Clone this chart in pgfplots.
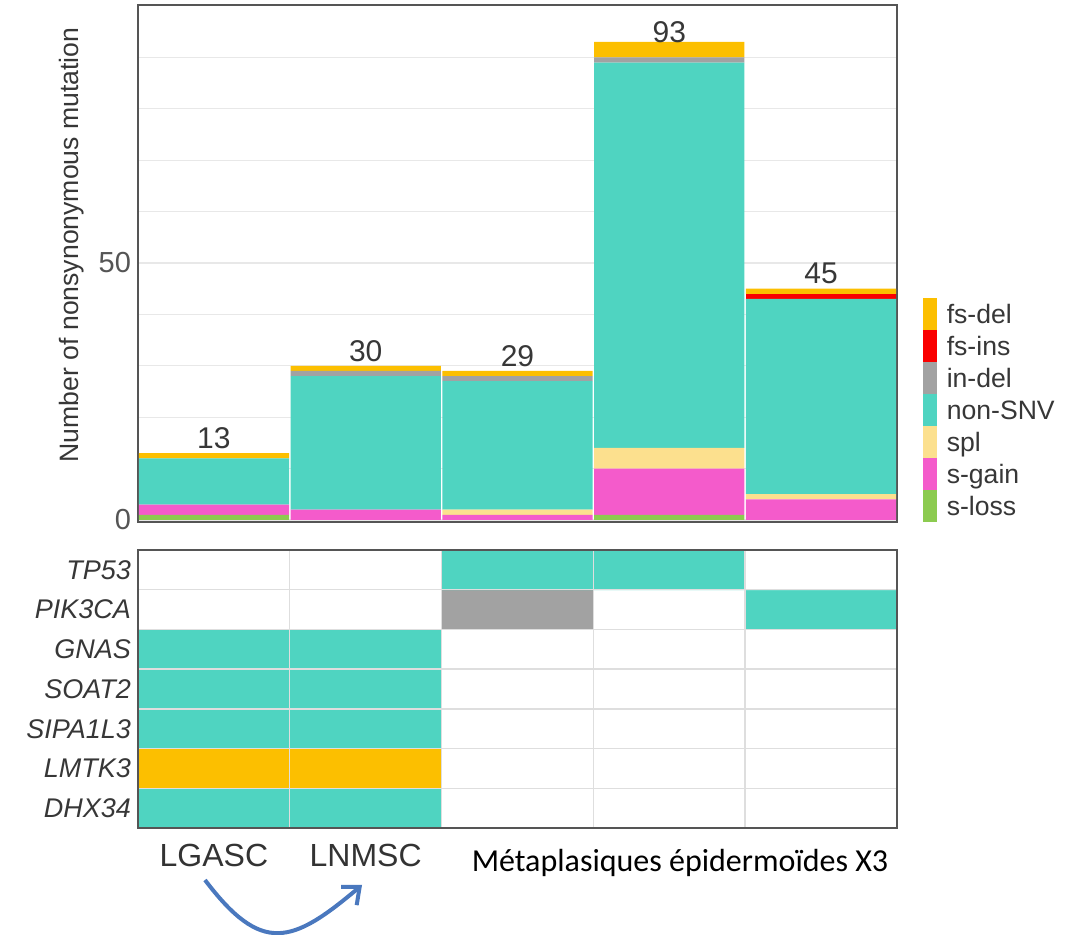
\documentclass[border=0pt]{standalone}
\usepackage{fontspec}
\setmainfont{Liberation Sans}
\newfontfamily\carlito{Carlito}
\usepackage{pgfplots}
\usepackage{pgfplotstable}
\pgfplotsset{compat=1.18}
\usetikzlibrary{arrows.meta}
\definecolor{cTeal}{RGB}{79,212,193}
\definecolor{cOrange}{RGB}{252,191,0}
\definecolor{cRed}{RGB}{250,0,0}
\definecolor{cGray}{RGB}{162,162,162}
\definecolor{cSpl}{RGB}{252,224,142}
\definecolor{cPink}{RGB}{244,91,203}
\definecolor{cGreen}{RGB}{140,203,80}
\definecolor{cText}{RGB}{55,55,55}
\definecolor{cGrid}{RGB}{232,232,232}
\definecolor{cCell}{RGB}{222,222,222}
\definecolor{cFrame}{RGB}{85,85,85}
\definecolor{cArrow}{RGB}{74,120,190}
\pgfplotsset{swatch/.style={legend image code/.code={\fill[##1,draw=none] (0pt,-8pt) rectangle (7pt,8pt);}}}

\pgfplotstableread{
x sloss sgain spl nonsnv indel fsins fsdel label
0 1 2 0 9 0 0 1 13
1 0 2 0 26 1 0 1 30
2 0 1 1 25 1 0 1 29
3 1 9 4 75 1 0 3 93
4 0 4 1 38 0 1 1 45
}\mutations

\pgfplotstableread{
x y c
0 0 1.5
1 0 1.5
2 0 0.5
3 0 0.5
4 0 0.5
0 1 3.5
1 1 3.5
2 1 0.5
3 1 0.5
4 1 0.5
0 2 1.5
1 2 1.5
2 2 0.5
3 2 0.5
4 2 0.5
0 3 1.5
1 3 1.5
2 3 0.5
3 3 0.5
4 3 0.5
0 4 1.5
1 4 1.5
2 4 0.5
3 4 0.5
4 4 0.5
0 5 0.5
1 5 0.5
2 5 2.5
3 5 0.5
4 5 1.5
0 6 0.5
1 6 0.5
2 6 1.5
3 6 1.5
4 6 0.5
}\genes

\begin{document}
\begin{tikzpicture}
\begin{axis}[
  at={(69pt,206.5pt)}, anchor=south west,
  scale only axis, width=379.5pt, height=258.5pt,
  ybar stacked, bar width=0.99,
  xmin=-0.5, xmax=4.5, ymin=-0.4, ymax=100.2,
  xtick=\empty, ytick={0,50}, minor ytick={10,20,30,40,60,70,80,90},
  ymajorgrids, yminorgrids,
  grid style={cGrid, line width=0.6pt},
  minor grid style={cGrid, line width=0.6pt},
  major tick length=0pt, minor tick length=0pt,
  axis line style={cFrame, line width=0.8pt},
  tick label style={font=\fontsize{14.5}{16}\selectfont, text=cText!85},
  /pgf/number format/assume math mode=true,
  ylabel={Number of nonsynonymous mutation},
  ylabel style={at={(axis description cs:-0.087,0.536)}, anchor=center, font=\fontsize{13.3}{16}\selectfont, text=cText},
  legend style={draw=none, fill=none, inner sep=0pt, outer sep=0pt,
    at={(1.034,0.433)}, anchor=north west, row sep=0pt, column sep=5pt,
    font=\fontsize{13.3}{16}\selectfont, text=cText,
    nodes={inner sep=0pt, outer sep=0pt, text height=12.75pt, text depth=3.25pt}},
  legend cell align=left,
  reverse legend,
  clip=false,
]
\addplot[fill=cGreen, draw=none, swatch] table[x=x, y=sloss] {\mutations};
\addlegendentry{s-loss}
\addplot[fill=cPink, draw=none, swatch] table[x=x, y=sgain] {\mutations};
\addlegendentry{s-gain}
\addplot[fill=cSpl, draw=none, swatch] table[x=x, y=spl] {\mutations};
\addlegendentry{spl}
\addplot[fill=cTeal, draw=none, swatch] table[x=x, y=nonsnv] {\mutations};
\addlegendentry{non-SNV}
\addplot[fill=cGray, draw=none, swatch] table[x=x, y=indel] {\mutations};
\addlegendentry{in-del}
\addplot[fill=cRed, draw=none, swatch] table[x=x, y=fsins] {\mutations};
\addlegendentry{fs-ins}
\addplot[fill=cOrange, draw=none, swatch,
  nodes near coords, point meta=explicit symbolic,
  every node near coord/.append style={font=\fontsize{15}{16}\selectfont, text=cText, anchor=south, inner ysep=3.3pt}]
  table[x=x, y=fsdel, meta=label] {\mutations};
\addlegendentry{fs-del}
\end{axis}

\begin{axis}[
  at={(69pt,53.5pt)}, anchor=south west,
  scale only axis, width=379.5pt, height=139pt,
  xmin=-0.5, xmax=4.5, ymin=-0.5, ymax=6.5, enlargelimits=false,
  xtick={0,1}, xticklabels={LGASC,LNMSC},
  ytick={0,1,2,3,4,5,6},
  yticklabels={DHX34,LMTK3,SIPA1L3,SOAT2,GNAS,PIK3CA,TP53},
  minor xtick={0.5,1.5,2.5,3.5}, minor ytick={0.5,1.5,2.5,3.5,4.5,5.5},
  xminorgrids, yminorgrids,
  minor grid style={cCell, line width=0.7pt},
  major tick length=0pt, minor tick length=0pt,
  axis on top,
  axis line style={cFrame, line width=0.8pt},
  colormap={cells}{color=(white) color=(cTeal) color=(cGray) color=(cOrange)},
  colormap access=piecewise constant,
  point meta min=0, point meta max=4,
  yticklabel style={font=\fontsize{13.5}{16}\selectfont\itshape, text=cText},
  xticklabel style={font=\fontsize{16}{18}\selectfont, text=black!80, yshift=-4.5pt},
]
\addplot[matrix plot*, mesh/cols=5, point meta=explicit] table[x=x, y=y, meta=c] {\genes};
\end{axis}

\node[anchor=base, font=\carlito\fontsize{16}{18}\selectfont, text=black] at (340pt,31.5pt) {Métaplasiques épidermoïdes X3};
\draw[cArrow, line width=2pt, -{Straight Barb[length=7pt, width=12pt]}]
  (102.5pt,27.5pt) .. controls (130.9pt,-10pt) and (146pt,-4.5pt) .. (181pt,25pt);
\pgfresetboundingbox
\useasboundingbox (0,0) rectangle (541.5pt,467.5pt);
\end{tikzpicture}
\end{document}
